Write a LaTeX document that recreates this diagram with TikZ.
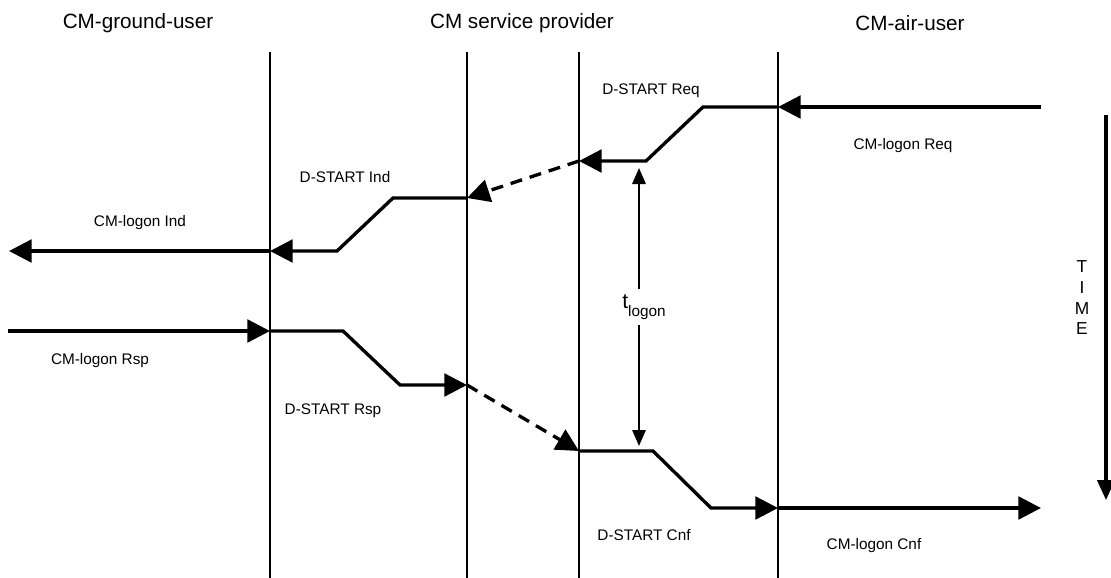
\documentclass[tikz,border=0pt]{standalone}
\usepackage{fontspec}
\setmainfont{Liberation Sans}
\usetikzlibrary{arrows.meta}

\begin{document}
\begin{tikzpicture}[x=0.75pt,y=-0.75pt,
    life/.style={line width=1.5pt},
    hop/.style={line width=2.5pt},
    msg/.style={hop,-{Triangle[length=17pt,width=17pt]}},
    prim/.style={msg,dash pattern=on 9pt off 6pt},
    tarr/.style={line width=1.5pt,-{Triangle[length=12pt,width=10pt]}},
    tline/.style={line width=2.5pt,-{Triangle[length=15pt,width=13pt]}},
    hdr/.style={font=\fontsize{15.5}{18}\selectfont},
    lbl/.style={font=\fontsize{11.5}{14}\selectfont}
  ]
  \useasboundingbox (0,0) rectangle (1111,578);
  % headers
  \node[hdr] (ground) at (138,23) {CM-ground-user};
  \node[hdr] (provider) at (522,23) {CM service provider};
  \node[hdr] (air) at (910,23) {CM-air-user};
  % lifelines
  \coordinate (g1) at (270,52);  \coordinate (g2) at (270,578);
  \coordinate (p1) at (467,52);  \coordinate (p2) at (467,578);
  \coordinate (q1) at (579,52);  \coordinate (q2) at (579,578);
  \coordinate (a1) at (778,52);  \coordinate (a2) at (778,578);
  \draw[life] (g1)--(g2) (p1)--(p2) (q1)--(q2) (a1)--(a2);
  % logon request
  \coordinate (rq0) at (1041,107); \coordinate (rq1) at (778,107);
  \coordinate (rq2) at (703,107);  \coordinate (rq3) at (646,161);
  \coordinate (rq4) at (579,161);
  \draw[msg] (rq0) -- (rq1);
  \draw[msg] (rq1) -- (rq2) -- (rq3) -- (rq4);
  \node[lbl] (reqA) at (903,146) {CM-logon Req};
  \node[lbl] (reqD) at (651,91) {D-START Req};
  % indication
  \coordinate (in1) at (467,198); \coordinate (in2) at (393,198);
  \coordinate (in3) at (337,251); \coordinate (in4) at (270,251);
  \coordinate (in5) at (9,251);
  \draw[prim] (rq4) -- (in1);
  \draw[msg] (in1) -- (in2) -- (in3) -- (in4);
  \draw[msg] (in4) -- (in5);
  \node[lbl] (indD) at (345,177) {D-START Ind};
  \node[lbl] (indG) at (140,223) {CM-logon Ind};
  % response
  \coordinate (rs0) at (8,331);   \coordinate (rs1) at (270,331);
  \coordinate (rs2) at (343,331); \coordinate (rs3) at (400,385);
  \coordinate (rs4) at (467,385); \coordinate (rs5) at (579,451);
  \draw[msg] (rs0) -- (rs1);
  \draw[msg] (rs1) -- (rs2) -- (rs3) -- (rs4);
  \draw[prim] (rs4) -- (rs5);
  \node[lbl] (rspG) at (100,361) {CM-logon Rsp};
  \node[lbl] (rspD) at (333,411) {D-START Rsp};
  % confirm
  \coordinate (cf1) at (653,451); \coordinate (cf2) at (711,508);
  \coordinate (cf3) at (778,508); \coordinate (cf4) at (1041,508);
  \draw[msg] (rs5) -- (cf1) -- (cf2) -- (cf3);
  \draw[msg] (cf3) -- (cf4);
  \node[lbl] (cnfD) at (644,535) {D-START Cnf};
  \node[lbl] (cnfA) at (874,546) {CM-logon Cnf};
  % logon time
  \node[inner sep=4pt] (tlog) at (644,307)
    {\fontsize{16}{18}\selectfont t\raisebox{-6pt}{\fontsize{11.5}{13}\selectfont logon}};
  \coordinate (tt) at (639,168); \coordinate (tb) at (639,446);
  \draw[tarr] (tlog.north -| tt) -- (tt);
  \draw[tarr] (tlog.south -| tb) -- (tb);
  % time axis
  \coordinate (ax1) at (1106,115); \coordinate (ax2) at (1106,500);
  \draw[tline] (ax1) -- (ax2);
  \node[font=\fontsize{13}{15.5}\selectfont,align=center] (time) at (1082,298) {T\\I\\M\\E};
\end{tikzpicture}
\end{document}
